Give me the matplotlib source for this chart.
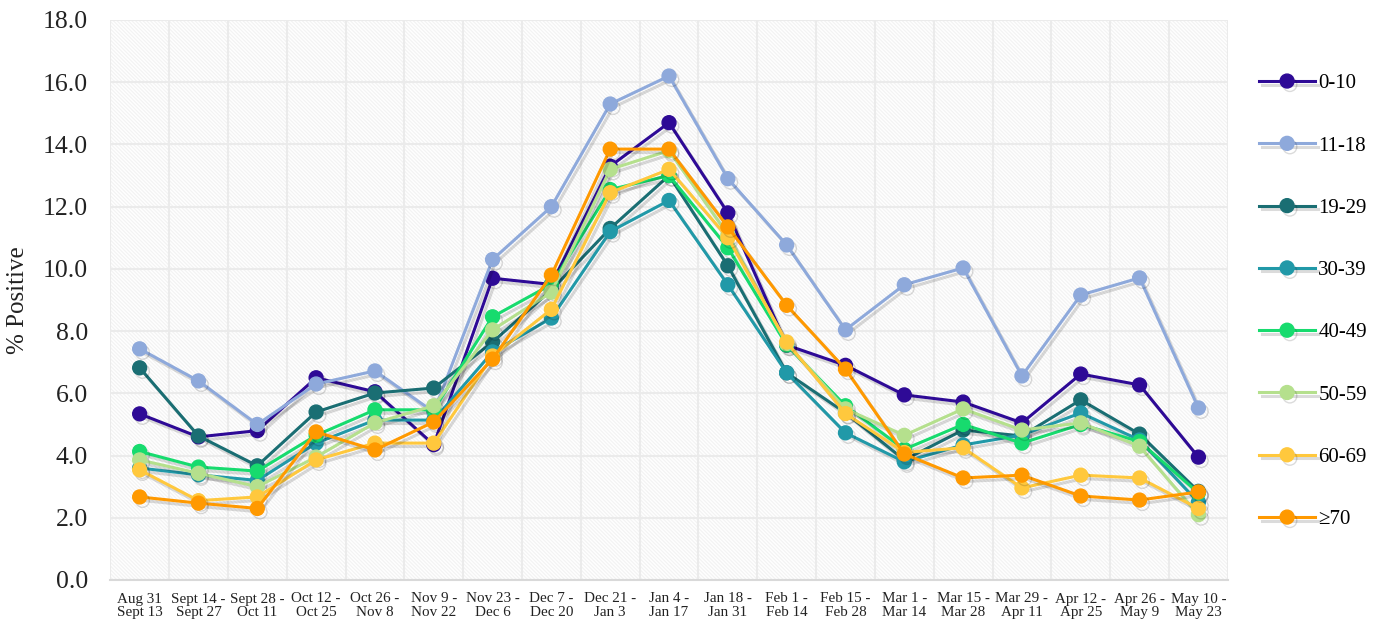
import numpy as np
import matplotlib
matplotlib.use("Agg")
import matplotlib.pyplot as plt
import matplotlib.patheffects as pe

plt.rcParams['font.family'] = ['Liberation Serif', 'DejaVu Serif']
plt.rcParams['hatch.linewidth'] = 0.9

weeks = ["Aug 31\nSept 13", "Sept 14 -\nSept 27", "Sept 28 -\nOct 11", "Oct 12 -\nOct 25",
         "Oct 26 -\nNov 8", "Nov 9 -\nNov 22", "Nov 23 -\nDec 6", "Dec 7 -\nDec 20",
         "Dec 21 -\nJan 3", "Jan 4 -\nJan 17", "Jan 18 -\nJan 31", "Feb 1 -\nFeb 14",
         "Feb 15 -\nFeb 28", "Mar 1 -\nMar 14", "Mar 15 -\nMar 28", "Mar 29 -\nApr 11",
         "Apr 12 -\nApr 25", "Apr 26 -\nMay 9", "May 10 -\nMay 23"]

age_0_10  = [5.34, 4.6, 4.8, 6.5, 6.05, 4.35, 9.7, 9.5, 13.3, 14.7, 11.8, 7.55, 6.9, 5.95, 5.72, 5.05, 6.62, 6.27, 3.95]
age_11_18 = [7.43, 6.4, 5.0, 6.3, 6.72, 5.4, 10.3, 12.0, 15.3, 16.2, 12.9, 10.77, 8.04, 9.49, 10.03, 6.56, 9.16, 9.71, 5.53]
age_19_29 = [6.82, 4.63, 3.67, 5.4, 6.01, 6.17, 7.65, 9.32, 11.3, 13.0, 10.1, 6.66, 5.37, 3.86, 4.82, 4.63, 5.79, 4.69, 2.85]
age_30_39 = [3.6, 3.38, 3.2, 4.4, 5.14, 5.14, 7.33, 8.42, 11.2, 12.2, 9.49, 6.66, 4.73, 3.8, 4.34, 4.66, 5.37, 4.5, 2.5]
age_40_49 = [4.13, 3.63, 3.5, 4.65, 5.47, 5.47, 8.46, 9.5, 12.55, 13.0, 10.68, 7.55, 5.6, 4.2, 5.0, 4.4, 5.0, 4.45, 2.8]
age_50_59 = [3.86, 3.43, 3.0, 3.95, 5.05, 5.6, 8.04, 9.25, 13.2, 13.8, 11.1, 7.6, 5.5, 4.65, 5.5, 4.82, 5.05, 4.3, 2.1]
age_60_69 = [3.54, 2.55, 2.67, 3.86, 4.4, 4.4, 7.2, 8.7, 12.45, 13.2, 11.0, 7.65, 5.35, 4.1, 4.25, 2.96, 3.37, 3.28, 2.3]
age_70    = [2.67, 2.47, 2.3, 4.76, 4.18, 5.08, 7.1, 9.8, 13.85, 13.85, 11.35, 8.83, 6.78, 4.05, 3.28, 3.37, 2.7, 2.57, 2.83]

labels = ["0-10", "11-18", "19-29", "30-39", "40-49", "50-59", "60-69", "\u226570"]
colors = ["#2E0A96", "#8EA9DB", "#1A6E73", "#2199A8", "#17DB6E", "#B5E08D", "#FFC83D", "#FF9900"]
series = [age_0_10, age_11_18, age_19_29, age_30_39, age_40_49, age_50_59, age_60_69, age_70]

fig = plt.figure(figsize=(13.78, 6.25), dpi=100)
ax = fig.add_axes([0.08, 0.072, 0.811, 0.896])

ax.patch.set_facecolor("white")
ax.patch.set_hatch("\\" * 9)
ax.patch.set_edgecolor("#F3F3F3")

x = np.arange(len(weeks))
shadow = [pe.SimpleLineShadow(offset=(2, -2.5), shadow_color="black", alpha=0.14), pe.Normal()]
for vals, lab, col in zip(series, labels, colors):
    ax.plot(x, vals, color=col, lw=2.2, marker="o", ms=10, mec=col, label=lab, path_effects=shadow)

ax.set_xlim(-0.5, len(weeks) - 0.5)
ax.set_ylim(0, 18)
ax.set_yticks(np.arange(0, 18.1, 2))
ax.set_yticklabels([f"{v:.1f}" for v in np.arange(0, 18.1, 2)], fontsize=18.5, color="#222222")
ax.set_xticks(x)
ax.set_xticklabels(weeks, fontsize=10.9, color="#222222", linespacing=1.08)
ax.set_xticks(np.arange(-0.5, len(weeks), 1), minor=True)
ax.tick_params(axis="both", which="both", length=0)
ax.tick_params(axis="y", pad=16)
ax.tick_params(axis="x", pad=9)
ax.grid(True, axis="y", which="major", color="#EBEBEB", lw=1.5)
ax.grid(True, axis="x", which="minor", color="#EBEBEB", lw=1.5)
ax.set_axisbelow(True)
for s in ["top", "right", "left"]:
    ax.spines[s].set_visible(False)
ax.spines["bottom"].set_color("#D9D9D9")
ax.spines["bottom"].set_linewidth(1.5)

ax.set_ylabel("% Positive", fontsize=18, color="#222222", labelpad=10)

fig.legend(loc="upper left", bbox_to_anchor=(0.9, 0.912), frameon=False,
           fontsize=15, labelspacing=2.05, handlelength=2.7, handletextpad=0.15,
           markerscale=1.0)

fig.savefig("out.png", dpi=100)
